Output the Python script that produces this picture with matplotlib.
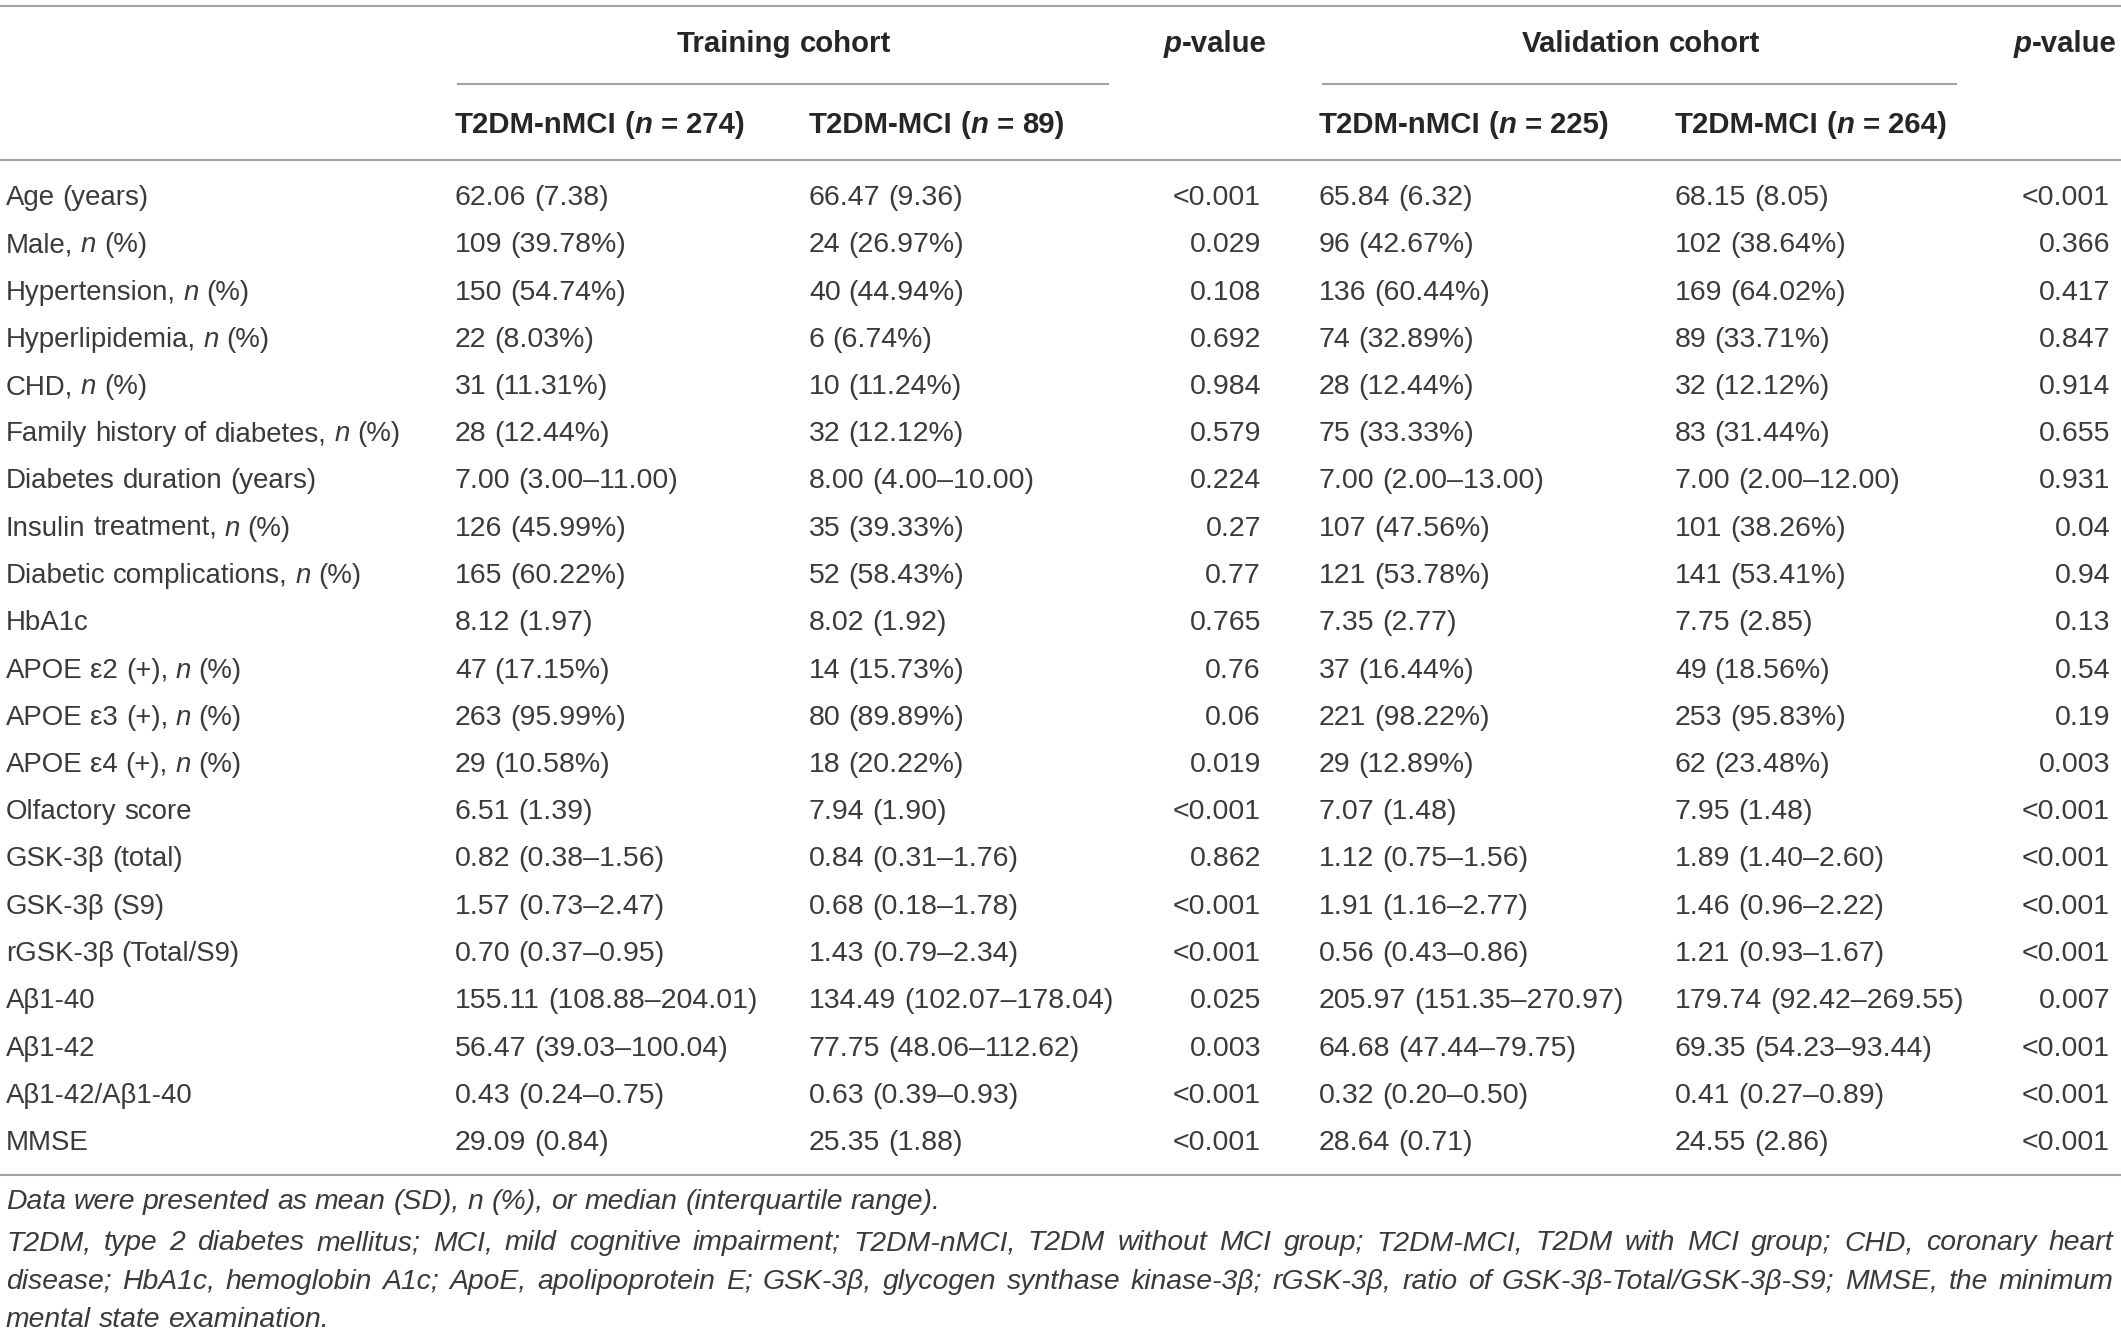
import matplotlib
matplotlib.use("Agg")
from matplotlib import pyplot as plt

# ---- table content ----
row_labels = ["Age (years)", "Male, _n_ (%)", "Hypertension, _n_ (%)", "Hyperlipidemia, _n_ (%)",
              "CHD, _n_ (%)", "Family history of diabetes, _n_ (%)", "Diabetes duration (years)",
              "Insulin treatment, _n_ (%)", "Diabetic complications, _n_ (%)", "HbA1c",
              "APOE ε2 (+), _n_ (%)", "APOE ε3 (+), _n_ (%)", "APOE ε4 (+), _n_ (%)",
              "Olfactory score", "GSK-3β (total)", "GSK-3β (S9)", "rGSK-3β (Total/S9)",
              "Aβ1-40", "Aβ1-42", "Aβ1-42/Aβ1-40", "MMSE"]
train_nmci = ["62.06 (7.38)", "109 (39.78%)", "150 (54.74%)", "22 (8.03%)", "31 (11.31%)",
              "28 (12.44%)", "7.00 (3.00–11.00)", "126 (45.99%)", "165 (60.22%)", "8.12 (1.97)",
              "47 (17.15%)", "263 (95.99%)", "29 (10.58%)", "6.51 (1.39)", "0.82 (0.38–1.56)",
              "1.57 (0.73–2.47)", "0.70 (0.37–0.95)", "155.11 (108.88–204.01)",
              "56.47 (39.03–100.04)", "0.43 (0.24–0.75)", "29.09 (0.84)"]
train_mci = ["66.47 (9.36)", "24 (26.97%)", "40 (44.94%)", "6 (6.74%)", "10 (11.24%)",
             "32 (12.12%)", "8.00 (4.00–10.00)", "35 (39.33%)", "52 (58.43%)", "8.02 (1.92)",
             "14 (15.73%)", "80 (89.89%)", "18 (20.22%)", "7.94 (1.90)", "0.84 (0.31–1.76)",
             "0.68 (0.18–1.78)", "1.43 (0.79–2.34)", "134.49 (102.07–178.04)",
             "77.75 (48.06–112.62)", "0.63 (0.39–0.93)", "25.35 (1.88)"]
train_p = ["<0.001", "0.029", "0.108", "0.692", "0.984", "0.579", "0.224", "0.27", "0.77",
           "0.765", "0.76", "0.06", "0.019", "<0.001", "0.862", "<0.001", "<0.001", "0.025",
           "0.003", "<0.001", "<0.001"]
valid_nmci = ["65.84 (6.32)", "96 (42.67%)", "136 (60.44%)", "74 (32.89%)", "28 (12.44%)",
              "75 (33.33%)", "7.00 (2.00–13.00)", "107 (47.56%)", "121 (53.78%)", "7.35 (2.77)",
              "37 (16.44%)", "221 (98.22%)", "29 (12.89%)", "7.07 (1.48)", "1.12 (0.75–1.56)",
              "1.91 (1.16–2.77)", "0.56 (0.43–0.86)", "205.97 (151.35–270.97)",
              "64.68 (47.44–79.75)", "0.32 (0.20–0.50)", "28.64 (0.71)"]
valid_mci = ["68.15 (8.05)", "102 (38.64%)", "169 (64.02%)", "89 (33.71%)", "32 (12.12%)",
             "83 (31.44%)", "7.00 (2.00–12.00)", "101 (38.26%)", "141 (53.41%)", "7.75 (2.85)",
             "49 (18.56%)", "253 (95.83%)", "62 (23.48%)", "7.95 (1.48)", "1.89 (1.40–2.60)",
             "1.46 (0.96–2.22)", "1.21 (0.93–1.67)", "179.74 (92.42–269.55)",
             "69.35 (54.23–93.44)", "0.41 (0.27–0.89)", "24.55 (2.86)"]
valid_p = ["<0.001", "0.366", "0.417", "0.847", "0.914", "0.655", "0.931", "0.04", "0.94",
           "0.13", "0.54", "0.19", "0.003", "<0.001", "<0.001", "<0.001", "<0.001", "0.007",
           "<0.001", "<0.001", "<0.001"]

group_headers = ["Training cohort", "Validation cohort"]
sub_headers = ["T2DM-nMCI (_n_ = 274)", "T2DM-MCI (_n_ = 89)",
               "T2DM-nMCI (_n_ = 225)", "T2DM-MCI (_n_ = 264)"]
pvalue_header = "_p_-value"
footnotes = [
    "Data were presented as mean (SD), n (%), or median (interquartile range).",
    "T2DM, type 2 diabetes mellitus; MCI, mild cognitive impairment; T2DM-nMCI, T2DM without MCI group; "
    "T2DM-MCI, T2DM with MCI group; CHD, coronary heart",
    "disease; HbA1c, hemoglobin A1c; ApoE, apolipoprotein E; GSK-3β, glycogen synthase kinase-3β; "
    "rGSK-3β, ratio of GSK-3β-Total/GSK-3β-S9; MMSE, the minimum",
    "mental state examination.",
]

# ---- layout ----
W, H = 2121, 1332
FONT = "Liberation Sans"
SIZE = 20.5
LABEL_SIZE = 19.9
HEAD_SIZE = 21.2
FOOT_SIZE = 20.4
TXT = "#3a3a3a"
HEAD = "#262626"
RULE = "#a3a3a3"

fig = plt.figure(figsize=(W / 100, H / 100), dpi=100)
ax = fig.add_axes([0, 0, 1, 1])
ax.set_xlim(0, W)
ax.set_ylim(H, 0)
ax.axis("off")
renderer = fig.canvas.get_renderer()

_cache = {}


def piece_width(s, size, weight, style):
    # measure with guard bars so that spaces are counted
    key = (size, weight, style)
    kw = dict(fontsize=size, fontweight=weight, fontstyle=style, family=FONT)
    if key not in _cache:
        t = ax.text(0, 0, "||", **kw)
        _cache[key] = t.get_window_extent(renderer).width
        t.remove()
    t = ax.text(0, 0, "|" + s + "|", **kw)
    w = t.get_window_extent(renderer).width - _cache[key]
    t.remove()
    return w


def tokens(s, italic_base=False):
    out = []
    for i, part in enumerate(s.split("_")):
        it = italic_base or (i % 2 == 1)
        words = part.split(" ")
        for j, wd in enumerate(words):
            if j > 0:
                out.append((" ", it))
            if wd:
                out.append((wd, it))
    return out


def rich(x, y, s, ha="left", size=SIZE, weight="normal", italic=False, color=TXT):
    toks = tokens(s, italic)
    widths = [piece_width(t, size, weight, "italic" if it else "normal") for t, it in toks]
    total = sum(widths)
    if ha == "center":
        x -= total / 2
    elif ha == "right":
        x -= total
    for (t, it), w in zip(toks, widths):
        if t != " ":
            ax.text(x, y, t, ha="left", va="baseline", fontsize=size, fontweight=weight,
                    fontstyle="italic" if it else "normal", family=FONT, color=color)
        x += w


def justified(x0, x1, y, s, size):
    words = s.split(" ")
    widths = [piece_width(wd, size, "normal", "italic") for wd in words]
    gap = (x1 - x0 - sum(widths)) / (len(words) - 1)
    x = x0
    for wd, w in zip(words, widths):
        ax.text(x, y, wd, ha="left", va="baseline", fontsize=size, fontstyle="italic",
                family=FONT, color=TXT)
        x += w + gap


def rule(y, x0=0, x1=W):
    ax.plot([x0, x1], [y, y], color=RULE, lw=1.5, solid_capstyle="butt")


BASE = 10  # baseline offset from row centre
col_x = [6, 455, 809, 1261, 1319, 1675, 2110]
col_ha = ["left", "left", "left", "right", "left", "left", "right"]

# rules
rule(6)
rule(84, 457, 1109)
rule(84, 1322, 1957)
rule(160)
rule(1175)

# headers
hk = dict(weight="bold", size=HEAD_SIZE, color=HEAD)
rich(784, 42 + BASE, group_headers[0], ha="center", **hk)
rich(1641, 42 + BASE, group_headers[1], ha="center", **hk)
rich(1215, 42 + BASE, pvalue_header, ha="center", **hk)
rich(2117, 42 + BASE, pvalue_header, ha="right", **hk)
for x, s in zip([col_x[1], col_x[2], col_x[4], col_x[5]], sub_headers):
    rich(x, 123 + BASE, s, **hk)

# body rows
columns = [row_labels, train_nmci, train_mci, train_p, valid_nmci, valid_mci, valid_p]
row_y0, row_step = 195, 47.25
for i in range(len(row_labels)):
    y = row_y0 + i * row_step + BASE
    for c, (x, ha, col) in enumerate(zip(col_x, col_ha, columns)):
        rich(x, y, col[i], ha=ha, size=LABEL_SIZE if c == 0 else SIZE)

# footnotes
foot_y = [1209, 1250, 1289, 1327]
rich(6, foot_y[0], footnotes[0], size=FOOT_SIZE, italic=True)
justified(6, 2113, foot_y[1], footnotes[1], FOOT_SIZE)
justified(6, 2113, foot_y[2], footnotes[2], FOOT_SIZE)
rich(6, foot_y[3], footnotes[3], size=FOOT_SIZE, italic=True)

fig.savefig("out.png", dpi=100, facecolor="white")
